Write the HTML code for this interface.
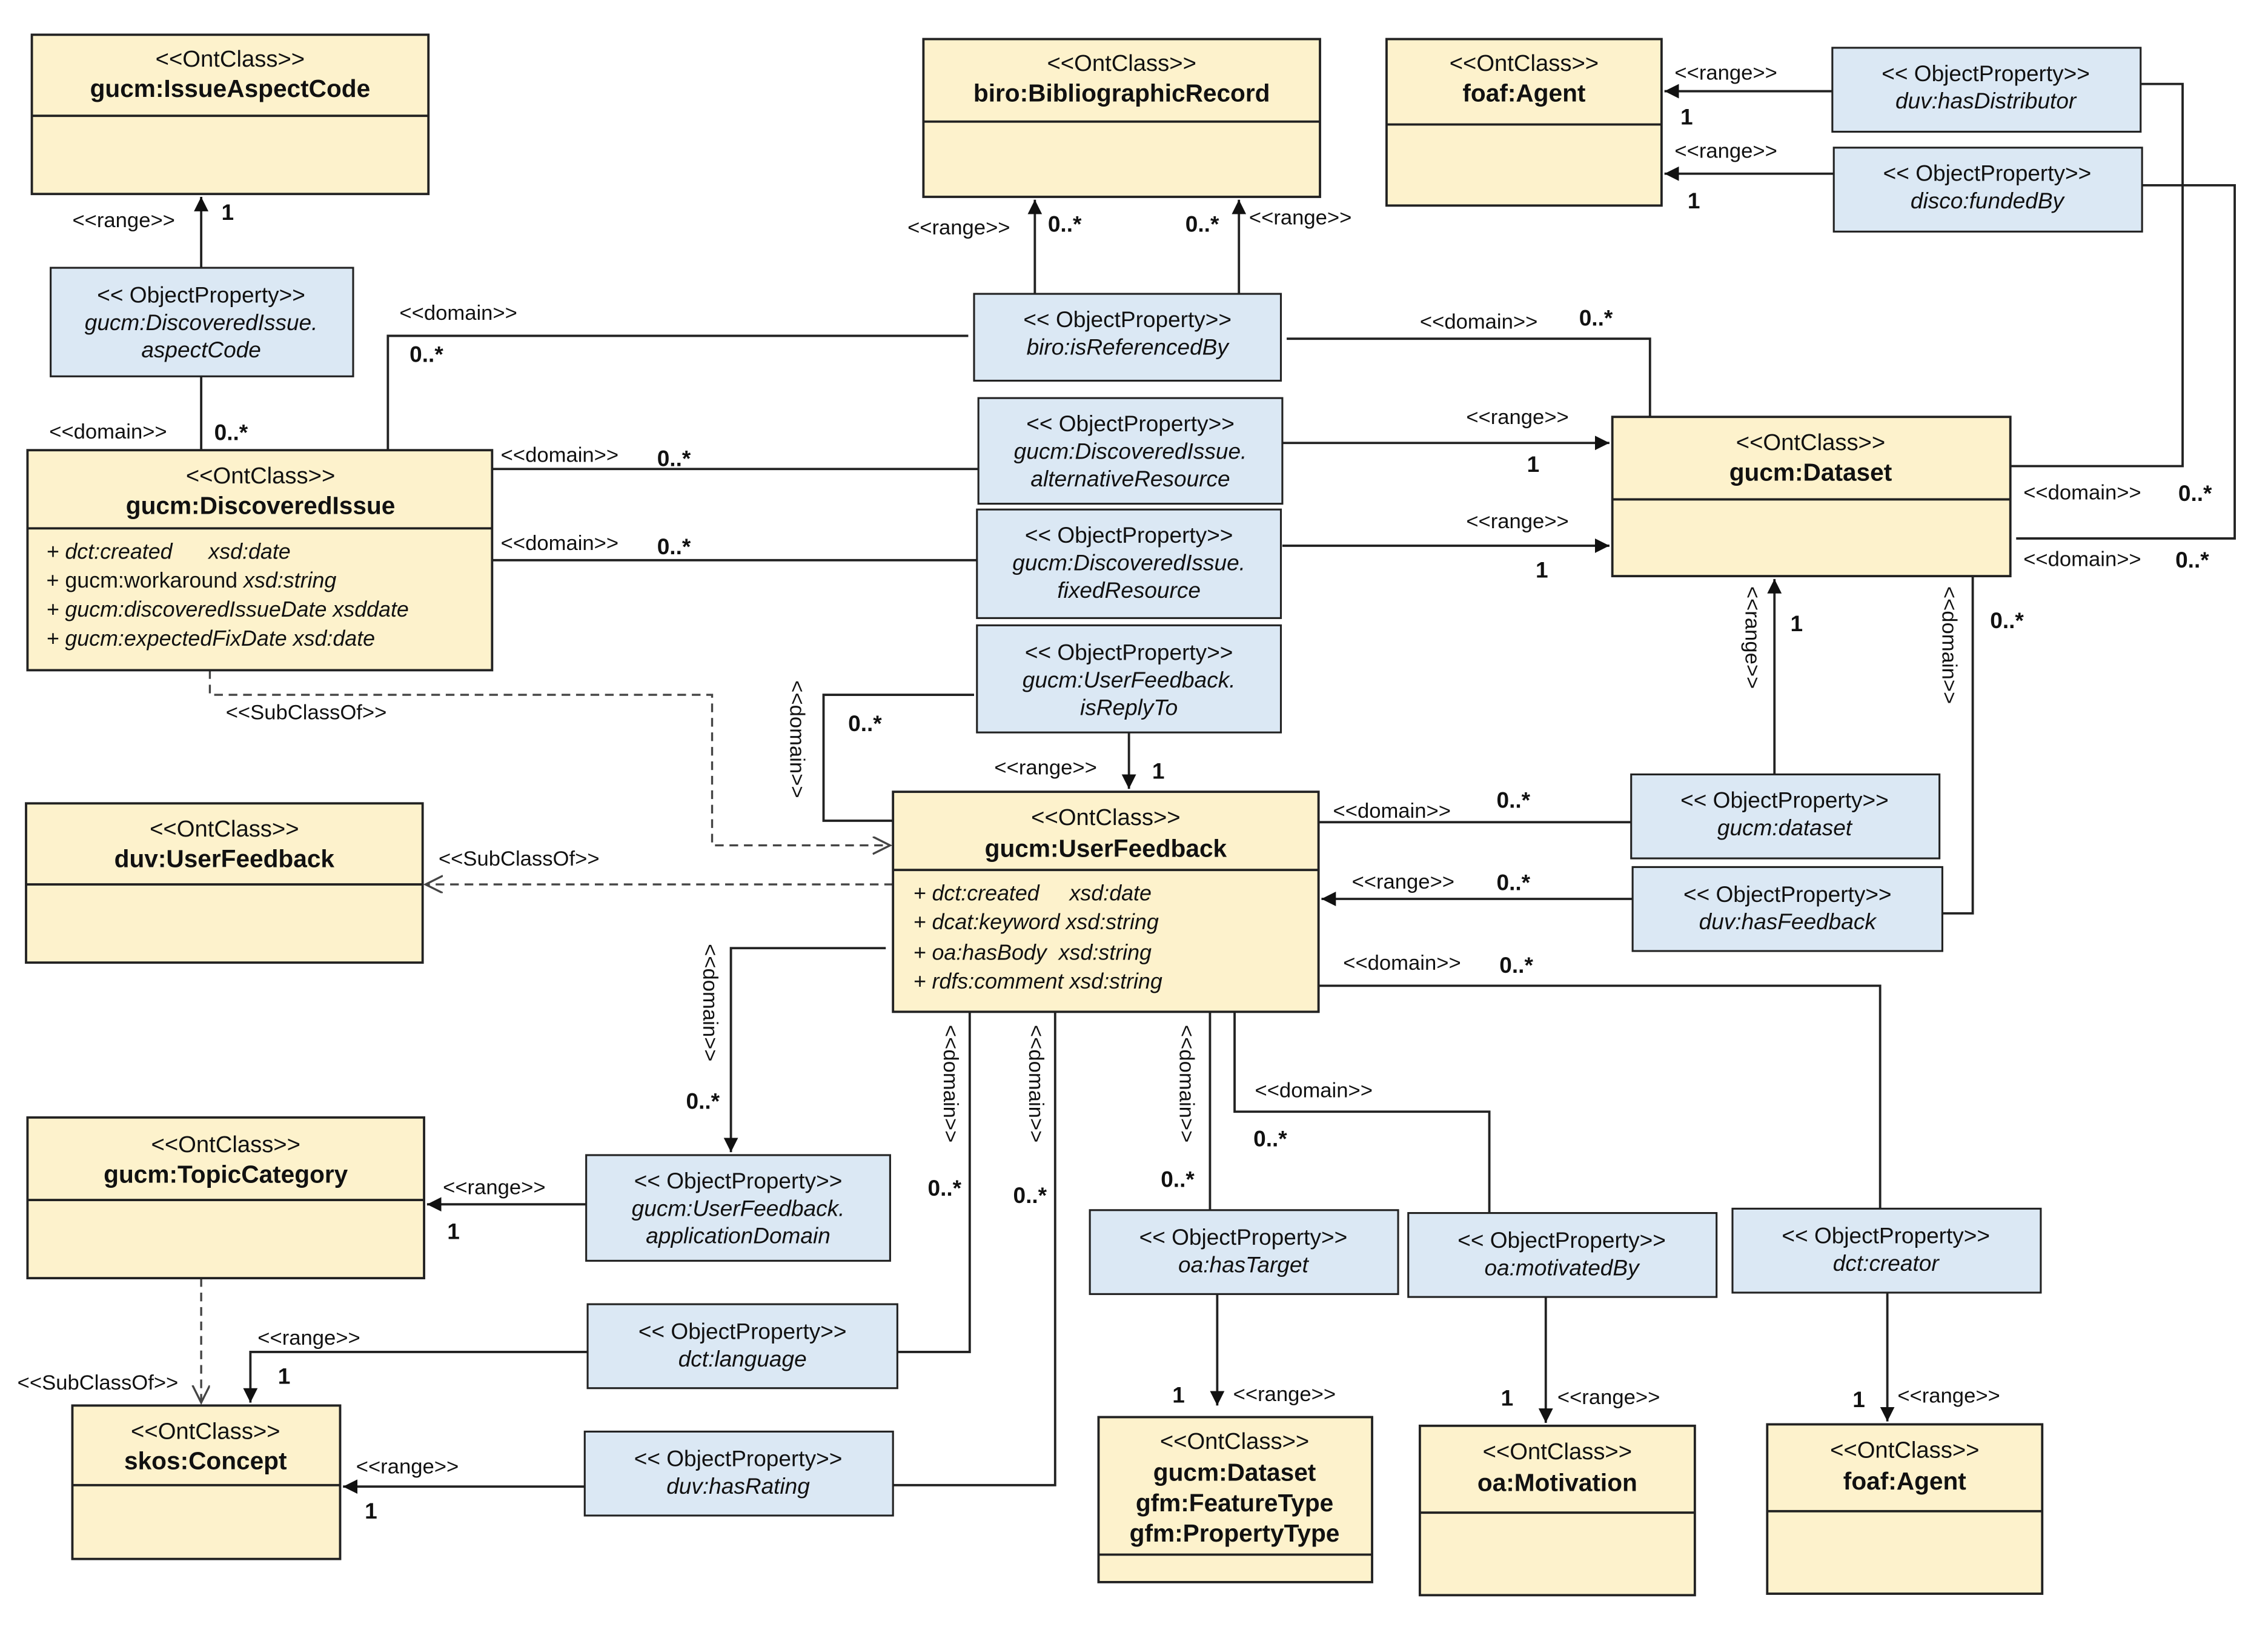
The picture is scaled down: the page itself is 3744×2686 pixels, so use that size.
<!DOCTYPE html>
<html><head><meta charset="utf-8"><style>
html,body{margin:0;padding:0;background:#fff;}
svg{display:block;}
text{font-family:"Liberation Sans",sans-serif;fill:#111;}
.c{fill:#fdf2cc;stroke:#222;stroke-width:1.6;}
.p{fill:#dbe8f4;stroke:#222;stroke-width:1.3;}
.st{font-size:16px;text-anchor:middle;}
.nm{font-size:17px;font-weight:bold;text-anchor:middle;}
.pt{font-size:15.5px;text-anchor:middle;}
.pi{font-size:15.5px;text-anchor:middle;font-style:italic;}
.at{font-size:15px;font-style:italic;}
.l{font-size:14.5px;}
.m{font-size:15.5px;font-weight:bold;}
.ln{stroke:#222;stroke-width:1.6;fill:none;}
.ds{stroke:#444;stroke-width:1.4;fill:none;stroke-dasharray:6,4;}
</style></head><body>
<svg width="3744" height="2686" viewBox="0 0 1567 1124" preserveAspectRatio="none" xmlns="http://www.w3.org/2000/svg">
<defs>
<marker id="a" markerWidth="12" markerHeight="12" refX="10" refY="5" orient="auto" markerUnits="userSpaceOnUse"><path d="M0,0 L10,5 L0,10 z" fill="#111"/></marker>
<marker id="o" markerWidth="14" markerHeight="14" refX="12" refY="6" orient="auto" markerUnits="userSpaceOnUse"><path d="M0,0 L12,6 L0,12" fill="none" stroke="#444" stroke-width="1.4"/></marker>
</defs>

<g class="ln">
<path d="M139,185 V136" marker-end="url(#a)"/>
<path d="M139,260 V311"/>
<path d="M268,311 V232 H669"/>
<path d="M715,203 V138" marker-end="url(#a)"/>
<path d="M856,203 V138" marker-end="url(#a)"/>
<path d="M889,234 H1140 V288"/>
<path d="M340,324 H676"/>
<path d="M886,306 H1112" marker-end="url(#a)"/>
<path d="M340,387 H675"/>
<path d="M886,377 H1112" marker-end="url(#a)"/>
<path d="M1266,63 H1150" marker-end="url(#a)"/>
<path d="M1267,120 H1150" marker-end="url(#a)"/>
<path d="M1479,58 H1508 V322 H1389"/>
<path d="M1480,128 H1544 V372 H1393"/>
<path d="M1226,535 V400" marker-end="url(#a)"/>
<path d="M1342,631 H1363 V398"/>
<path d="M1127,568 H911"/>
<path d="M1128,621 H913" marker-end="url(#a)"/>
<path d="M780,506 V545" marker-end="url(#a)"/>
<path d="M673,480 H569 V567 H617"/>
<path d="M612,655 H505 V796" marker-end="url(#a)"/>
<path d="M405,832 H295" marker-end="url(#a)"/>
<path d="M670,699 V934 H620"/>
<path d="M406,934 H173 V969" marker-end="url(#a)"/>
<path d="M729,699 V1026 H617"/>
<path d="M404,1027 H237" marker-end="url(#a)"/>
<path d="M836,699 V836"/>
<path d="M853,699 V768 H1029 V838"/>
<path d="M911,681 H1299 V835"/>
<path d="M841,894 V971" marker-end="url(#a)"/>
<path d="M1068,896 V983" marker-end="url(#a)"/>
<path d="M1304,893 V982" marker-end="url(#a)"/>
</g>
<path class="ds" d="M145,463 V480 H492 V584 H615" marker-end="url(#o)"/>
<path class="ds" d="M617,611 H294" marker-end="url(#o)"/>
<path class="ds" d="M139,883 V969" marker-end="url(#o)"/>

<rect class="c" x="22" y="24" width="274" height="110"/><line class="ln" x1="22" y1="80" x2="296" y2="80"/>
<text class="st" x="159" y="46">&lt;&lt;OntClass&gt;&gt;</text><text class="nm" x="159" y="67">gucm:IssueAspectCode</text>

<rect class="c" x="638" y="27" width="274" height="109"/><line class="ln" x1="638" y1="84" x2="912" y2="84"/>
<text class="st" x="775" y="49">&lt;&lt;OntClass&gt;&gt;</text><text class="nm" x="775" y="70">biro:BibliographicRecord</text>

<rect class="c" x="958" y="27" width="190" height="115"/><line class="ln" x1="958" y1="86" x2="1148" y2="86"/>
<text class="st" x="1053" y="49">&lt;&lt;OntClass&gt;&gt;</text><text class="nm" x="1053" y="70">foaf:Agent</text>

<rect class="c" x="19" y="311" width="321" height="152"/><line class="ln" x1="19" y1="365" x2="340" y2="365"/>
<text class="st" x="180" y="334">&lt;&lt;OntClass&gt;&gt;</text><text class="nm" x="180" y="355">gucm:DiscoveredIssue</text>
<text class="at" x="32" y="386">+ dct:created &#160;&#160;&#160;&#160;&#160;xsd:date</text>
<text class="at" x="32" y="406"><tspan font-style="normal">+ gucm:workaround</tspan> xsd:string</text>
<text class="at" x="32" y="426">+ gucm:discoveredIssueDate xsddate</text>
<text class="at" x="32" y="446">+ gucm:expectedFixDate xsd:date</text>

<rect class="c" x="1114" y="288" width="275" height="110"/><line class="ln" x1="1114" y1="345" x2="1389" y2="345"/>
<text class="st" x="1251" y="311">&lt;&lt;OntClass&gt;&gt;</text><text class="nm" x="1251" y="332">gucm:Dataset</text>

<rect class="c" x="18" y="555" width="274" height="110"/><line class="ln" x1="18" y1="611" x2="292" y2="611"/>
<text class="st" x="155" y="578">&lt;&lt;OntClass&gt;&gt;</text><text class="nm" x="155" y="599">duv:UserFeedback</text>

<rect class="c" x="617" y="547" width="294" height="152"/><line class="ln" x1="617" y1="601" x2="911" y2="601"/>
<text class="st" x="764" y="570">&lt;&lt;OntClass&gt;&gt;</text><text class="nm" x="764" y="592">gucm:UserFeedback</text>
<text class="at" x="631" y="622">+ dct:created &#160;&#160;&#160;&#160;xsd:date</text>
<text class="at" x="631" y="642">+ dcat:keyword xsd:string</text>
<text class="at" x="631" y="663">+ oa:hasBody &#160;xsd:string</text>
<text class="at" x="631" y="683">+ rdfs:comment xsd:string</text>

<rect class="c" x="19" y="772" width="274" height="111"/><line class="ln" x1="19" y1="829" x2="293" y2="829"/>
<text class="st" x="156" y="796">&lt;&lt;OntClass&gt;&gt;</text><text class="nm" x="156" y="817">gucm:TopicCategory</text>

<rect class="c" x="50" y="971" width="185" height="106"/><line class="ln" x1="50" y1="1026" x2="235" y2="1026"/>
<text class="st" x="142" y="994">&lt;&lt;OntClass&gt;&gt;</text><text class="nm" x="142" y="1015">skos:Concept</text>

<rect class="c" x="759" y="979" width="189" height="114"/><line class="ln" x1="759" y1="1074" x2="948" y2="1074"/>
<text class="st" x="853" y="1001">&lt;&lt;OntClass&gt;&gt;</text><text class="nm" x="853" y="1023">gucm:Dataset</text><text class="nm" x="853" y="1044">gfm:FeatureType</text><text class="nm" x="853" y="1065">gfm:PropertyType</text>

<rect class="c" x="981" y="985" width="190" height="117"/><line class="ln" x1="981" y1="1045" x2="1171" y2="1045"/>
<text class="st" x="1076" y="1008">&lt;&lt;OntClass&gt;&gt;</text><text class="nm" x="1076" y="1030">oa:Motivation</text>

<rect class="c" x="1221" y="984" width="190" height="117"/><line class="ln" x1="1221" y1="1044" x2="1411" y2="1044"/>
<text class="st" x="1316" y="1007">&lt;&lt;OntClass&gt;&gt;</text><text class="nm" x="1316" y="1029">foaf:Agent</text>

<rect class="p" x="1266" y="33" width="213" height="58"/><text class="pt" x="1372" y="56">&lt;&lt; ObjectProperty&gt;&gt;</text><text class="pi" x="1372" y="75">duv:hasDistributor</text>
<rect class="p" x="1267" y="102" width="213" height="58"/><text class="pt" x="1373" y="125">&lt;&lt; ObjectProperty&gt;&gt;</text><text class="pi" x="1373" y="144">disco:fundedBy</text>
<rect class="p" x="35" y="185" width="209" height="75"/><text class="pt" x="139" y="209">&lt;&lt; ObjectProperty&gt;&gt;</text><text class="pi" x="139" y="228">gucm:DiscoveredIssue.</text><text class="pi" x="139" y="247">aspectCode</text>
<rect class="p" x="673" y="203" width="212" height="60"/><text class="pt" x="779" y="226">&lt;&lt; ObjectProperty&gt;&gt;</text><text class="pi" x="779" y="245">biro:isReferencedBy</text>
<rect class="p" x="676" y="275" width="210" height="73"/><text class="pt" x="781" y="298">&lt;&lt; ObjectProperty&gt;&gt;</text><text class="pi" x="781" y="317">gucm:DiscoveredIssue.</text><text class="pi" x="781" y="336">alternativeResource</text>
<rect class="p" x="675" y="352" width="210" height="75"/><text class="pt" x="780" y="375">&lt;&lt; ObjectProperty&gt;&gt;</text><text class="pi" x="780" y="394">gucm:DiscoveredIssue.</text><text class="pi" x="780" y="413">fixedResource</text>
<rect class="p" x="675" y="432" width="210" height="74"/><text class="pt" x="780" y="456">&lt;&lt; ObjectProperty&gt;&gt;</text><text class="pi" x="780" y="475">gucm:UserFeedback.</text><text class="pi" x="780" y="494">isReplyTo</text>
<rect class="p" x="1127" y="535" width="213" height="58"/><text class="pt" x="1233" y="558">&lt;&lt; ObjectProperty&gt;&gt;</text><text class="pi" x="1233" y="577">gucm:dataset</text>
<rect class="p" x="1128" y="599" width="214" height="58"/><text class="pt" x="1235" y="623">&lt;&lt; ObjectProperty&gt;&gt;</text><text class="pi" x="1235" y="642">duv:hasFeedback</text>
<rect class="p" x="405" y="798" width="210" height="73"/><text class="pt" x="510" y="821">&lt;&lt; ObjectProperty&gt;&gt;</text><text class="pi" x="510" y="840">gucm:UserFeedback.</text><text class="pi" x="510" y="859">applicationDomain</text>
<rect class="p" x="406" y="901" width="214" height="58"/><text class="pt" x="513" y="925">&lt;&lt; ObjectProperty&gt;&gt;</text><text class="pi" x="513" y="944">dct:language</text>
<rect class="p" x="404" y="989" width="213" height="58"/><text class="pt" x="510" y="1013">&lt;&lt; ObjectProperty&gt;&gt;</text><text class="pi" x="510" y="1032">duv:hasRating</text>
<rect class="p" x="753" y="836" width="213" height="58"/><text class="pt" x="859" y="860">&lt;&lt; ObjectProperty&gt;&gt;</text><text class="pi" x="859" y="879">oa:hasTarget</text>
<rect class="p" x="973" y="838" width="213" height="58"/><text class="pt" x="1079" y="862">&lt;&lt; ObjectProperty&gt;&gt;</text><text class="pi" x="1079" y="881">oa:motivatedBy</text>
<rect class="p" x="1197" y="835" width="213" height="58"/><text class="pt" x="1303" y="859">&lt;&lt; ObjectProperty&gt;&gt;</text><text class="pi" x="1303" y="878">dct:creator</text>

<text class="l" x="50" y="157">&lt;&lt;range&gt;&gt;</text><text class="m" x="153" y="152">1</text>
<text class="l" x="34" y="303">&lt;&lt;domain&gt;&gt;</text><text class="m" x="148" y="304">0..*</text>
<text class="l" x="276" y="221">&lt;&lt;domain&gt;&gt;</text><text class="m" x="283" y="250">0..*</text>
<text class="l" x="627" y="162">&lt;&lt;range&gt;&gt;</text><text class="m" x="724" y="160">0..*</text>
<text class="m" x="819" y="160">0..*</text><text class="l" x="863" y="155">&lt;&lt;range&gt;&gt;</text>
<text class="l" x="981" y="227">&lt;&lt;domain&gt;&gt;</text><text class="m" x="1091" y="225">0..*</text>
<text class="l" x="346" y="319">&lt;&lt;domain&gt;&gt;</text><text class="m" x="454" y="322">0..*</text>
<text class="l" x="1013" y="293">&lt;&lt;range&gt;&gt;</text><text class="m" x="1055" y="326">1</text>
<text class="l" x="346" y="380">&lt;&lt;domain&gt;&gt;</text><text class="m" x="454" y="383">0..*</text>
<text class="l" x="1013" y="365">&lt;&lt;range&gt;&gt;</text><text class="m" x="1061" y="399">1</text>
<text class="l" x="1157" y="55">&lt;&lt;range&gt;&gt;</text><text class="m" x="1161" y="86">1</text>
<text class="l" x="1157" y="109">&lt;&lt;range&gt;&gt;</text><text class="m" x="1166" y="144">1</text>
<text class="l" x="1398" y="345">&lt;&lt;domain&gt;&gt;</text><text class="m" x="1505" y="346">0..*</text>
<text class="l" x="1398" y="391">&lt;&lt;domain&gt;&gt;</text><text class="m" x="1503" y="392">0..*</text>
<text class="l" transform="translate(1206,405) rotate(90)">&lt;&lt;range&gt;&gt;</text><text class="m" x="1237" y="436">1</text>
<text class="l" transform="translate(1342,405) rotate(90)">&lt;&lt;domain&gt;&gt;</text><text class="m" x="1375" y="434">0..*</text>
<text class="l" x="921" y="565">&lt;&lt;domain&gt;&gt;</text><text class="m" x="1034" y="558">0..*</text>
<text class="l" x="934" y="614">&lt;&lt;range&gt;&gt;</text><text class="m" x="1034" y="615">0..*</text>
<text class="l" x="687" y="535">&lt;&lt;range&gt;&gt;</text><text class="m" x="796" y="538">1</text>
<text class="l" transform="translate(546,470) rotate(90)">&lt;&lt;domain&gt;&gt;</text><text class="m" x="586" y="505">0..*</text>
<text class="l" x="156" y="497">&lt;&lt;SubClassOf&gt;&gt;</text>
<text class="l" x="303" y="598">&lt;&lt;SubClassOf&gt;&gt;</text>
<text class="l" transform="translate(486,652) rotate(90)">&lt;&lt;domain&gt;&gt;</text><text class="m" x="474" y="766">0..*</text>
<text class="l" x="306" y="825">&lt;&lt;range&gt;&gt;</text><text class="m" x="309" y="856">1</text>
<text class="l" transform="translate(652,708) rotate(90)">&lt;&lt;domain&gt;&gt;</text><text class="m" x="641" y="826">0..*</text>
<text class="l" x="178" y="929">&lt;&lt;range&gt;&gt;</text><text class="m" x="192" y="956">1</text>
<text class="l" transform="translate(711,708) rotate(90)">&lt;&lt;domain&gt;&gt;</text><text class="m" x="700" y="831">0..*</text>
<text class="l" x="246" y="1018">&lt;&lt;range&gt;&gt;</text><text class="m" x="252" y="1049">1</text>
<text class="l" x="12" y="960">&lt;&lt;SubClassOf&gt;&gt;</text>
<text class="l" transform="translate(815,708) rotate(90)">&lt;&lt;domain&gt;&gt;</text><text class="m" x="802" y="820">0..*</text>
<text class="l" x="867" y="758">&lt;&lt;domain&gt;&gt;</text><text class="m" x="866" y="792">0..*</text>
<text class="l" x="928" y="670">&lt;&lt;domain&gt;&gt;</text><text class="m" x="1036" y="672">0..*</text>
<text class="l" x="852" y="968">&lt;&lt;range&gt;&gt;</text><text class="m" x="810" y="969">1</text>
<text class="l" x="1076" y="970">&lt;&lt;range&gt;&gt;</text><text class="m" x="1037" y="971">1</text>
<text class="l" x="1311" y="969">&lt;&lt;range&gt;&gt;</text><text class="m" x="1280" y="972">1</text>
</svg>
</body></html>
